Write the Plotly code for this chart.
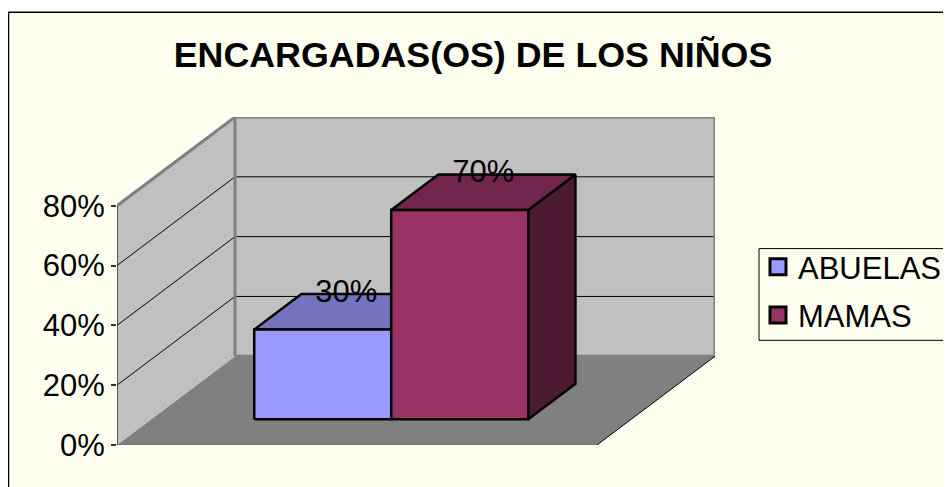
import plotly.graph_objects as go

TITLE = "ENCARGADAS(OS) DE LOS NIÑOS"
SERIES = ["ABUELAS", "MAMAS"]
VALUES = [30, 70]
TICK_VALUES = [0, 20, 40, 60, 80]
TICK_LABELS = ["0%", "20%", "40%", "60%", "80%"]
FRONT = ["#9999FF", "#993366"]
TOP = ["#7373BF", "#73264D"]
SIDE = ["#4D4D80", "#4D1A33"]

# the page body adds an 8 px margin around the figure
PAGE = 8
W, H = 951 - PAGE, 487 - PAGE
PX_PER_VAL = 3.0
VMAX = TICK_VALUES[-1]
DEPTH_PX_X, DEPTH_PX_Y = 118.0, 89.0
FLOOR_W = 480.0
L, B = 117.0, 445.5
R = L + FLOOR_W + DEPTH_PX_X
T = B - VMAX * PX_PER_VAL - DEPTH_PX_Y
DEPTH_X = DEPTH_PX_X / FLOOR_W
DEPTH_V = DEPTH_PX_Y / PX_PER_VAL
BAR_W = 137.0 / FLOOR_W
GAP = (1 - 2 * BAR_W) / 2
D_FRONT, D_BACK = 0.29, 0.69


def proj(x, d, v):
    return x + d * DEPTH_X, v + d * DEPTH_V


def poly(pts, fill, line=None, lw=0, close=True):
    c = [proj(*p) for p in pts]
    if close:
        c.append(c[0])
    return go.Scatter(
        x=[p[0] for p in c], y=[p[1] for p in c], mode="lines",
        fill="toself" if fill else "none", fillcolor=fill,
        line=dict(color=line or "rgba(0,0,0,0)", width=lw),
        showlegend=False, hoverinfo="skip", cliponaxis=False,
    )


fig = go.Figure()
# floor and walls
fig.add_trace(poly([(0, 0, 0), (1, 0, 0), (1, 1, 0), (0, 1, 0)], "#808080"))
fig.add_trace(poly([(0, 0, 0), (0, 1, 0), (0, 1, VMAX), (0, 0, VMAX)], "#C0C0C0"))
fig.add_trace(poly([(0, 1, 0), (1, 1, 0), (1, 1, VMAX), (0, 1, VMAX)], "#C0C0C0"))
# gridlines
for v in TICK_VALUES[1:-1]:
    fig.add_trace(poly([(0, 0, v), (0, 1, v), (1, 1, v)], None, "#000000", 1, close=False))
# wall frame
fig.add_trace(poly([(0, 0, VMAX), (0, 1, VMAX), (1, 1, VMAX), (1, 1, 0), (0, 1, 0)], None, "#808080", 3, close=False))
fig.add_trace(poly([(0, 1, 0), (0, 1, VMAX)], None, "#808080", 3, close=False))
# floor edges
fig.add_trace(poly([(1, 1, 0), (1, 0, 0)], None, "#000000", 1, close=False))
fig.add_trace(poly([(0, 0, 0), (1, 0, 0)], None, "#6E6E60", 1.5, close=False))
# value axis line
fig.add_trace(poly([(0, 0, 0), (0, 0, VMAX)], None, "#333333", 1.5, close=False))

# bars
for i, v in enumerate(VALUES):
    x0 = GAP + i * BAR_W
    x1 = x0 + BAR_W
    fig.add_trace(poly([(x1, D_FRONT, 0), (x1, D_BACK, 0), (x1, D_BACK, v), (x1, D_FRONT, v)], SIDE[i], "#000000", 2.5))
    fig.add_trace(poly([(x0, D_FRONT, v), (x1, D_FRONT, v), (x1, D_BACK, v), (x0, D_BACK, v)], TOP[i], "#000000", 2.5))
    fig.add_trace(poly([(x0, D_FRONT, 0), (x1, D_FRONT, 0), (x1, D_FRONT, v), (x0, D_FRONT, v)], FRONT[i], "#000000", 2.5))

# data labels
for i, v in enumerate(VALUES):
    xc = GAP + (i + 0.5) * BAR_W + (D_FRONT + D_BACK) / 2 * DEPTH_X
    fig.add_trace(go.Scatter(
        x=[xc], y=[v + D_BACK * DEPTH_V], mode="text", text=[f"{v}%"],
        textposition="middle center", textfont=dict(size=31, color="#000000"),
        showlegend=False, hoverinfo="skip", cliponaxis=False,
    ))

# legend entries
for i, s in enumerate(SERIES):
    fig.add_trace(go.Scatter(
        x=[None], y=[None], mode="markers", name=s, legendgroup=s,
        marker=dict(symbol="square", size=18, color=FRONT[i], line=dict(color="#000000", width=3)),
    ))

plot_w, plot_h = R - L, B - T


def px(x):
    return (x - L) / plot_w


def py(y):
    return (B - y) / plot_h


fig.update_layout(
    width=W, height=H, autosize=False,
    margin=dict(l=L - PAGE, r=W - (R - PAGE), t=T - PAGE, b=H - (B - PAGE), pad=0, autoexpand=False),
    paper_bgcolor="#FFFFFF", plot_bgcolor="rgba(0,0,0,0)",
    font=dict(family="Liberation Sans, Arial, sans-serif", color="#000000"),
    title=dict(
        text=f"<b>{TITLE}</b>", font=dict(size=35.8, color="#000000"),
        x=(473 - PAGE) / W, xref="container", xanchor="center",
        y=1 - (54 - PAGE) / H, yref="container", yanchor="middle",
    ),
    xaxis=dict(range=[0, 1 + DEPTH_X], visible=False, fixedrange=True),
    yaxis=dict(
        range=[0, VMAX + DEPTH_V], tickmode="array", tickvals=TICK_VALUES, ticktext=TICK_LABELS,
        ticks="outside", ticklen=5, tickwidth=1.5, tickcolor="#333333", tickfont=dict(size=31, color="#000000"),
        showgrid=False, zeroline=False, showline=False, fixedrange=True, ticklabelstandoff=0,
    ),
    legend=dict(
        x=px(758), y=py(240), xanchor="left", yanchor="top", bgcolor="rgba(0,0,0,0)",
        borderwidth=0, font=dict(size=31, color="#000000"),
        traceorder="grouped", tracegroupgap=5, entrywidth=180, entrywidthmode="pixels",
        itemclick=False, itemdoubleclick=False,
    ),
    shapes=[
        dict(
            type="rect", xref="paper", yref="paper", layer="below",
            x0=px(8.5), x1=px(1000), y0=py(11.5), y1=py(530),
            fillcolor="#FFFFF0", line=dict(color="#000000", width=1.5),
        ),
        dict(
            type="rect", xref="paper", yref="paper", layer="below",
            x0=px(759), x1=px(1000), y0=py(248.5), y1=py(340.5),
            fillcolor="rgba(0,0,0,0)", line=dict(color="#000000", width=1),
        ),
    ],
)
fig.write_html("out.html", config=dict(displayModeBar=False))
